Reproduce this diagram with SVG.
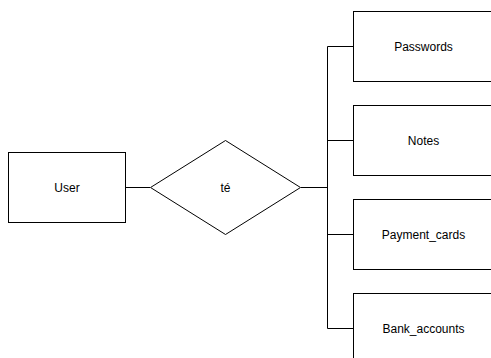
<svg xmlns="http://www.w3.org/2000/svg" width="491" height="358" viewBox="0 0 491 358">
<style>
.n{fill:#fff;stroke:#000;stroke-width:1}
.c{fill:none;stroke:#000;stroke-width:1}
text{font-family:"Liberation Sans",Arial,sans-serif;font-size:12px;fill:#000;text-anchor:middle;dominant-baseline:central}
</style>
<rect width="491" height="358" fill="#fff"/>
<g id="connectors">
<path class="c" d="M126 187.5H150"/>
<path class="c" d="M301 187.5H327.5"/>
<path class="c" d="M327.5 46.5V328.5"/>
<path class="c" d="M327.5 46.5H353.5M327.5 140.5H353.5M327.5 234.5H353.5M327.5 328.5H353.5"/>
</g>
<g id="user"><rect class="n" x="8.5" y="152.5" width="117" height="70"/><text x="67" y="187.5">User</text></g>
<g id="te"><path class="n" d="M225.5 140.5L300.5 187.5L225.5 234.5L150.5 187.5Z"/><text x="225.5" y="187.5">té</text></g>
<g id="passwords"><rect class="n" x="353.5" y="11.5" width="140" height="70"/><text x="423.5" y="46.5">Passwords</text></g>
<g id="notes"><rect class="n" x="353.5" y="105.5" width="140" height="70"/><text x="423.5" y="140.5">Notes</text></g>
<g id="payment_cards"><rect class="n" x="353.5" y="199.5" width="140" height="70"/><text x="423.5" y="234.5">Payment_cards</text></g>
<g id="bank_accounts"><rect class="n" x="353.5" y="293.5" width="140" height="70"/><text x="423.5" y="328.5">Bank_accounts</text></g>
</svg>
